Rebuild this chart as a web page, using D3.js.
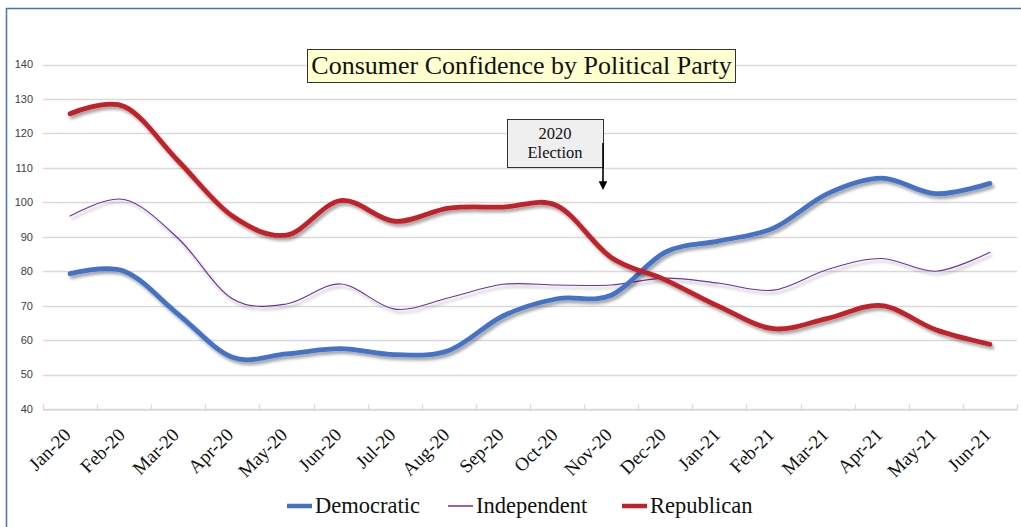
<!DOCTYPE html>
<html>
<head>
<meta charset="utf-8">
<script src="https://cdn.jsdelivr.net/npm/d3@7"></script>
<style>
  html, body { margin: 0; padding: 0; background: #fff; }
  svg { display: block; }
</style>
</head>
<body>
<svg id="chart" width="1021" height="527"></svg>
<script>
const months = ["Jan-20","Feb-20","Mar-20","Apr-20","May-20","Jun-20","Jul-20","Aug-20","Sep-20","Oct-20","Nov-20","Dec-20","Jan-21","Feb-21","Mar-21","Apr-21","May-21","Jun-21"];
const democratic  = [79.3, 80, 67.5, 55, 56, 57.5, 55.8, 57, 67, 72, 73, 85.5, 88.8, 92.5, 102.5, 107, 102.5, 105.5];
const independent = [96, 100.8, 89.5, 72, 70.5, 76.3, 69, 72.3, 76.2, 76, 76, 78, 76.5, 74.5, 80.5, 83.7, 80, 85.5];
const republican  = [125.7, 127.8, 112, 96, 90.5, 100.5, 94.5, 98.3, 98.6, 99, 84, 77.5, 69.7, 63.3, 66.3, 70, 63, 58.8];
const yTicks = [40, 50, 60, 70, 80, 90, 100, 110, 120, 130, 140];
const seriesNames = ["Democratic", "Independent", "Republican"];
const seriesColors = ["#4472C4", "#7030A0", "#C0202A"];
const titleText = "Consumer Confidence by Political Party";
const noteLines = ["2020", "Election"];

const svg = d3.select("#chart");
const serif = "'Liberation Serif', 'Times New Roman', serif";
const sans = "'Liberation Sans', Arial, sans-serif";

// outer border (top & left visible)
svg.append("path").attr("d", "M6.5,527 V8.5 H1021").attr("fill", "none").attr("stroke", "#4472C4").attr("stroke-width", 1.5);

const defs = svg.append("defs");
const f = defs.append("filter").attr("id", "shadow").attr("x", "-5%").attr("y", "-5%").attr("width", "110%").attr("height", "120%");
f.append("feDropShadow").attr("dx", 2).attr("dy", 3).attr("stdDeviation", 1.6).attr("flood-color", "#000").attr("flood-opacity", 0.35);
const m = defs.append("marker").attr("id", "arrow").attr("viewBox", "0 0 10 10").attr("refX", 2).attr("refY", 5)
  .attr("markerWidth", 5.5).attr("markerHeight", 5.5).attr("orient", "auto-start-reverse").attr("markerUnits", "strokeWidth");
m.append("path").attr("d", "M0,0 L10,5 L0,10 z").attr("fill", "#000");

const x = d3.scaleBand().domain(months).range([43, 1017]);
const y = d3.scaleLinear().domain([40, 140]).range([409, 64.5]);

// gridlines
svg.append("g").selectAll("line").data(yTicks).join("line")
  .attr("x1", 43).attr("x2", 1017)
  .attr("y1", d => Math.round(y(d)) + 0.5).attr("y2", d => Math.round(y(d)) + 0.5)
  .attr("stroke", "#D9D9D9").attr("stroke-width", 1.3);

// y labels
svg.append("g").selectAll("text").data(yTicks).join("text")
  .attr("x", 33).attr("y", d => y(d)).attr("dy", "0.35em")
  .attr("text-anchor", "end").attr("font-family", sans).attr("font-size", 11)
  .attr("fill", "#404040").text(d => d);

// x axis ticks
const xAxis = d3.axisBottom(x).tickSize(0).tickFormat("");
const gx = svg.append("g").attr("transform", "translate(0,409.5)").call(xAxis);
gx.select(".domain").attr("stroke", "#D9D9D9").attr("stroke-width", 1.3);
const tickPos = months.map(mo => x(mo)).concat([x.range()[1]]);
gx.selectAll("line.tk").data(tickPos).join("line").attr("class", "tk")
  .attr("x1", d => Math.round(d) + 0.5).attr("x2", d => Math.round(d) + 0.5)
  .attr("y1", 0).attr("y2", -5).attr("stroke", "#D9D9D9").attr("stroke-width", 1.3);

// x labels
svg.append("g").selectAll("text").data(months).join("text")
  .attr("transform", d => `translate(${x(d) + x.bandwidth() / 2 + 2},${436}) rotate(-45)`)
  .attr("text-anchor", "end").attr("font-family", serif).attr("font-size", 19)
  .attr("fill", "#111").text(d => d);

// lines
const values = [democratic, independent, republican];
const widths = [4.8, 1.1, 4.8];
const line = d3.line()
  .x((d, i) => x(months[i]) + x.bandwidth() / 2)
  .y(d => y(d))
  .curve(d3.curveCatmullRom.alpha(0));
const gl = svg.append("g");
[1, 0, 2].forEach(k => {
  gl.append("path").datum(values[k]).attr("d", line)
    .attr("fill", "none").attr("stroke", seriesColors[k]).attr("stroke-width", widths[k])
    .attr("stroke-linecap", "round").attr("stroke-linejoin", "round")
    .attr("filter", "url(#shadow)");
});

// title
svg.append("rect").attr("x", 307.5).attr("y", 49.5).attr("width", 428).attr("height", 33)
  .attr("fill", "#FFFFD0").attr("stroke", "#333").attr("stroke-width", 1);
svg.append("text").attr("x", 521.5).attr("y", 74).attr("text-anchor", "middle")
  .attr("font-family", serif).attr("font-size", 26).attr("fill", "#111").text(titleText);

// annotation
svg.append("rect").attr("x", 507.5).attr("y", 119.5).attr("width", 96).attr("height", 48)
  .attr("fill", "#EFEFEF").attr("stroke", "#333").attr("stroke-width", 1);
svg.append("g").selectAll("text").data(noteLines).join("text")
  .attr("x", 555).attr("y", (d, i) => 139 + i * 19).attr("text-anchor", "middle")
  .attr("font-family", serif).attr("font-size", 16.5).attr("fill", "#111").text(d => d);
svg.append("line").attr("x1", 603).attr("y1", 143).attr("x2", 603).attr("y2", 183)
  .attr("stroke", "#000").attr("stroke-width", 1.6).attr("marker-end", "url(#arrow)");

// legend
const legX = [287, 448, 622];
const lg = svg.append("g");
seriesNames.forEach((nm, i) => {
  lg.append("line").attr("x1", legX[i]).attr("x2", legX[i] + 25).attr("y1", 506).attr("y2", 506)
    .attr("stroke", seriesColors[i]).attr("stroke-width", i === 1 ? 1.5 : 4.5);
  lg.append("text").attr("x", legX[i] + 28).attr("y", 513).attr("font-family", serif)
    .attr("font-size", 22.5).attr("fill", "#111").text(nm);
});
</script>
</body>
</html>
